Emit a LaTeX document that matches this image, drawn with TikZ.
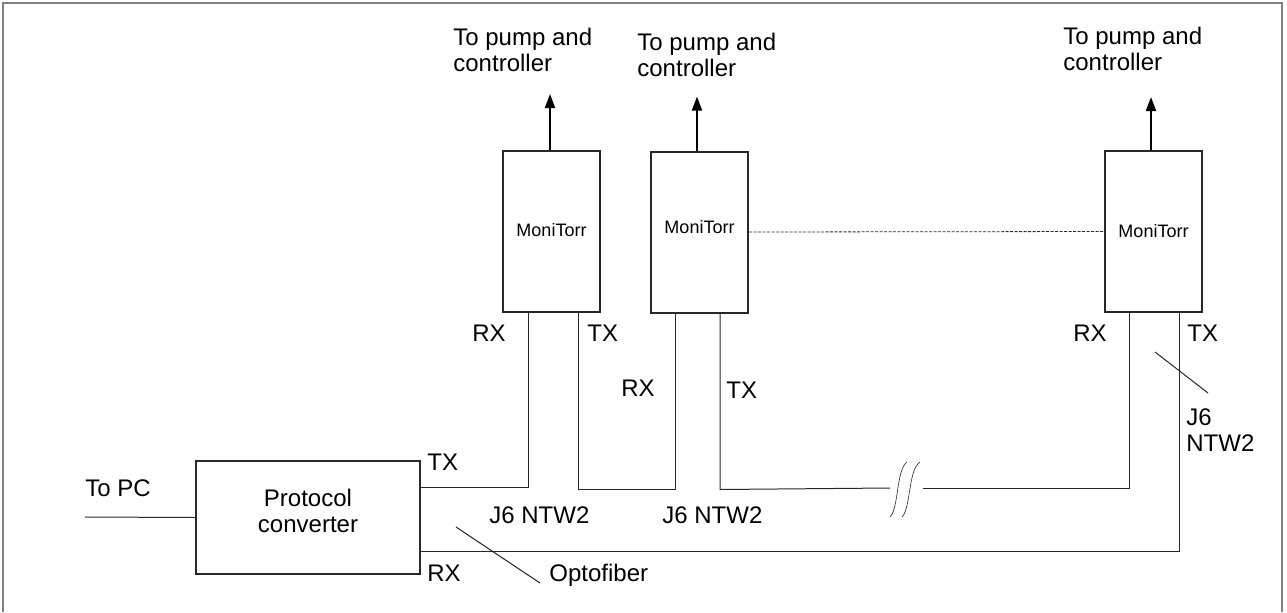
\documentclass[tikz,border=0pt]{standalone}
\usepackage{fontspec}
\setmainfont{Liberation Sans}
\usetikzlibrary{calc,arrows.meta}
\definecolor{framegray}{RGB}{128,128,128}
\definecolor{linegray}{RGB}{40,40,40}

\begin{document}
\begin{tikzpicture}[x=0.5pt, y=-0.5pt,
  monitor/.style={draw=linegray, line width=1pt, minimum width=48.5pt, minimum height=80.5pt,
    inner sep=0pt, font=\fontsize{9}{11}\selectfont},
  converter/.style={draw=linegray, line width=1pt, minimum width=112pt, minimum height=56.5pt},
  txt/.style={inner sep=0pt, anchor=west, align=left, font=\fontsize{12}{13}\selectfont},
  wire/.style={draw=linegray, line width=0.5pt},
  pump/.style={draw=black, line width=1pt, -{Triangle[width=5pt,length=7pt]}}]
  \useasboundingbox (0,0) rectangle (1287,612);
  \draw[framegray, line width=1pt] (3,612) -- (3,3) -- (1282,3) -- (1282,612);

  % boxes
  \node[converter] (conv) at (308,517.5) {};
  \node[txt, anchor=center, align=center] (convtext) at ($(conv.center)+(0,-7)$) {Protocol\\converter};
  \node[monitor, text depth=2pt] (mon1) at (551.5,231.5) {MoniTorr};
  \node[monitor, text depth=5pt] (mon2) at (699.5,232) {MoniTorr};
  \node[monitor, text depth=1pt] (mon3) at (1153.5,231.5) {MoniTorr};

  % to pump and controller
  \node[txt, anchor=north west] (pump1) at (453,28) {To pump and\\controller};
  \node[txt, anchor=north west] (pump2) at (637,33) {To pump and\\controller};
  \node[txt, anchor=north west] (pump3) at (1063,27) {To pump and\\controller};
  \draw[pump] ($(mon1.north)+(-1.5,0)$) -- ++(0,-56);
  \draw[pump] ($(mon2.north)+(-2.5,0)$) -- ++(0,-54);
  \draw[pump] ($(mon3.north)+(-2.5,0)$) -- ++(0,-53);
  \draw[wire, dash pattern=on 1.5pt off 0.75pt, line width=0.4pt] (mon2.east) -- (mon3.west);

  % port labels
  \node[txt] (pctxt) at (85,488) {To PC};
  \node[txt] (convtx) at (427,462) {TX};
  \node[txt] (convrx) at (427,573) {RX};
  \node[txt] (rx1) at (472,333) {RX};
  \node[txt] (tx1) at (587,333) {TX};
  \node[txt] (rx2) at (621,388) {RX};
  \node[txt] (tx2) at (726,390) {TX};
  \node[txt] (rx3) at (1073,333) {RX};
  \node[txt] (tx3) at (1187,333) {TX};
  \node[txt] (ntw1) at (489,515) {J6 NTW2};
  \node[txt] (ntw2) at (662,515) {J6 NTW2};
  \node[txt] (ntw3) at (1186,430) {J6\\NTW2};
  \node[txt] (opto) at (549,575) {Optofiber};

  % wiring
  \coordinate (pc) at (85,517);
  \coordinate (brkL) at (890,488);
  \coordinate (brkR) at (923,488);
  \draw[wire] (pc) -- (conv.west);
  \draw[wire] ($(conv.north east)+(0,27)$) -| ($(mon1.south)+(-23.5,0)$);
  \draw[wire] ($(mon1.south)+(26.5,0)$) -- ++(0,176) -| ($(mon2.south)+(-24.5,0)$);
  \draw[wire] ($(mon2.south)+(20.5,0)$) -- ++(0,176) -- (brkL);
  \draw[wire] (brkR) -| ($(mon3.south)+(-24.5,0)$);
  \draw[wire] ($(conv.south east)+(0,-24)$) -| ($(mon3.south)+(25.5,0)$);

  % break mark
  \draw[wire, line width=0.3pt] (890,517) .. controls (899,508) and (896,470) .. (907,462);
  \draw[wire, line width=0.3pt] (902,517) .. controls (911,508) and (908,470) .. (920,462);

  % leaders
  \coordinate (optoA) at (456,527);
  \coordinate (optoB) at (540,583);
  \coordinate (ntwA) at (1155,352);
  \coordinate (ntwB) at (1208,393);
  \draw[wire] (optoA) -- (optoB);
  \draw[wire] (ntwA) -- (ntwB);
\end{tikzpicture}
\end{document}
